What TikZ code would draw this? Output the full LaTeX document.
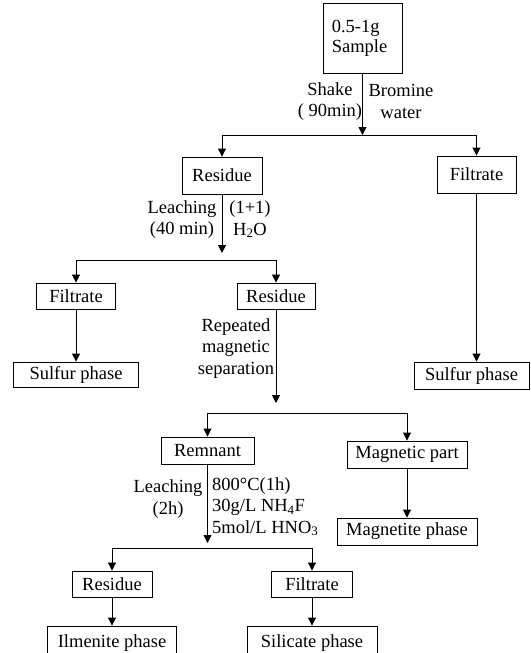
\documentclass[tikz,border=0pt]{standalone}
\usepackage{fontspec}
\setmainfont{Liberation Serif}
\usetikzlibrary{arrows.meta}
\begin{document}
\begin{tikzpicture}[x=1pt,y=-1pt,
  every node/.style={font=\fontsize{18.5}{21.5}\selectfont},
  box/.style={draw,line width=0.9pt,rectangle,inner sep=0pt,anchor=center},
  lbl/.style={inner sep=0pt,align=center},
  lbll/.style={inner sep=0pt,align=left},
  conn/.style={line width=0.9pt},
  arr/.style={line width=0.9pt,-{Triangle[length=8pt,width=8pt]}}]
\useasboundingbox (0,0) rectangle (530,653);
% boxes
\node[box,minimum width=79,minimum height=70] (sample) at (362.5,38) {\hspace*{-6pt}\raisebox{-4pt}{\begin{tabular}{@{}l@{}}0.5-1g\\[-1.5pt]Sample\end{tabular}}};
\node[box,minimum width=79,minimum height=37] (filtR) at (476.5,174.5) {Filtrate};
\node[box,minimum width=80,minimum height=37] (res1) at (222,175.5) {Residue};
\node[box,minimum width=79,minimum height=26] (filt2) at (76,296) {Filtrate};
\node[box,minimum width=78,minimum height=26] (res2) at (276,296) {Residue};
\node[box,minimum width=125,minimum height=25] (sulf1) at (76,374.5) {Sulfur phase};
\node[box,minimum width=115,minimum height=27] (sulfR) at (471.5,375.5) {Sulfur phase};
\node[box,minimum width=93,minimum height=27] (rem) at (207.5,450.5) {Remnant};
\node[box,minimum width=120,minimum height=27] (magp) at (407,454.5) {Magnetic part};
\node[box,minimum width=140,minimum height=27] (magn) at (407,531.5) {Magnetite phase};
\node[box,minimum width=80,minimum height=26] (res3) at (112,584) {Residue};
\node[box,minimum width=81,minimum height=26] (filt3) at (312,584) {Filtrate};
\node[box,minimum width=129,minimum height=32,text depth=0pt] (ilm) at (112,642) {\raisebox{2pt}{Ilmenite phase}};
\node[box,minimum width=130,minimum height=32,text depth=0pt] (sil) at (312,642) {\raisebox{2pt}{Silicate phase}};
% junction coordinates
\coordinate (j1) at (362.5,135);
\coordinate (j1l) at (222,135);
\coordinate (j1r) at (476.5,135);
\coordinate (a2) at (222,253);
\coordinate (j2l) at (76,260);
\coordinate (j2r) at (276,260);
\coordinate (a3) at (276,403);
\coordinate (j3l) at (207.5,413);
\coordinate (j3r) at (407,413);
\coordinate (a4) at (207.5,543);
\coordinate (j4l) at (112,548);
\coordinate (j4r) at (312,548);
% connectors
\draw[arr] (sample) -- (j1);
\draw[conn] (j1l) -- (j1r);
\draw[arr] (j1l) -- (res1);
\draw[arr] (j1r) -- (filtR);
\draw[arr] (res1) -- (a2);
\draw[conn] (j2l) -- (j2r);
\draw[arr] (j2l) -- (filt2);
\draw[arr] (j2r) -- (res2);
\draw[arr] (filt2) -- (sulf1);
\draw[arr] (filtR.south) -- (filtR.south |- sulfR.north);
\draw[arr] (res2) -- (a3);
\draw[conn] (j3l) -- (j3r);
\draw[arr] (j3l) -- (rem);
\draw[arr] (j3r) -- (magp);
\draw[arr] (magp) -- (magn);
\draw[arr] (rem) -- (a4);
\draw[conn] (j4l) -- (j4r);
\draw[arr] (j4l) -- (res3);
\draw[arr] (j4r) -- (filt3);
\draw[arr] (res3) -- (ilm);
\draw[arr] (filt3) -- (sil);
% labels
\node[lbl] (l1) at (330,101.5) {Shake\\( 90min)};
\node[lbl] (l2) at (401,101.5) {Bromine\\water};
\node[lbl] (l3) at (182,219.5) {Leaching\\(40 min)};
\node[lbl] (l4) at (250,219.5) {(1+1)\\H\textsubscript{2}O};
\node[lbl] (l5) at (236,348.5) {Repeated\\magnetic\\separation};
\node[lbl] (l6) at (168,499) {Leaching\\(2h)};
\node[lbll,anchor=west] (l7) at (212,506.5) {800°C(1h)\\30g/L NH\textsubscript{4}F\\5mol/L HNO\textsubscript{3}};
\end{tikzpicture}
\end{document}
